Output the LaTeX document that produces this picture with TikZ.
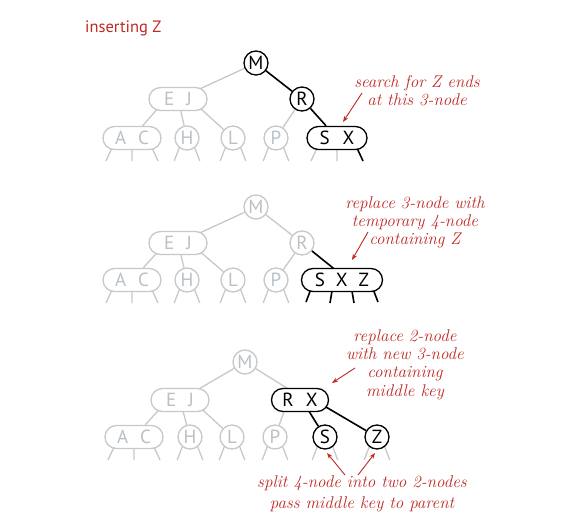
\documentclass[tikz,border=0pt]{standalone}
\usepackage{fontspec}
\usetikzlibrary{shapes.misc,calc,arrows.meta}
\newfontfamily\keyfont{PT Sans}
\definecolor{redx}{RGB}{190,40,35}
\definecolor{lg}{RGB}{200,200,200}
\definecolor{lgt}{RGB}{185,192,200}
\pgfdeclarelayer{bg}
\pgfsetlayers{bg,main}
\newcommand\mycstubs[2]{\draw[#2] (#1.-128) -- ++(-5,13) (#1.-52) -- ++(5,13);}
\newcommand\mypstubs[2]{\draw[#2] ($(#1)+(-20,10)$) -- ++(-6,13) ($(#1)+(0,11)$) -- ++(0,12) ($(#1)+(20,10)$) -- ++(6,13);}
\begin{document}
\begin{tikzpicture}[x=1pt,y=-1pt,
  key/.style={circle, line width=1.3pt, fill=white, minimum size=24pt, inner sep=0pt, font=\keyfont\fontsize{19}{19}\selectfont},
  pill/.style={rounded rectangle, line width=1.3pt, fill=white, minimum height=23pt, inner sep=0pt, font=\keyfont\fontsize{19}{19}\selectfont},
  gk/.style={draw=lg, text=lgt},
  bk/.style={draw=black, text=black},
  ge/.style={draw=lg, line width=1.3pt},
  be/.style={draw=black, line width=1.6pt},
  note/.style={text=redx, font=\fontsize{17}{18.3}\selectfont\itshape, align=center},
  rarrow/.style={draw=redx, line width=0.9pt, -{Stealth[length=6pt,width=4.5pt]}}]
\useasboundingbox (0,0) rectangle (587,530);

% ---------- title
\node[anchor=west, text=redx, inner sep=0pt, font=\keyfont\fontsize{16.5}{16.5}\selectfont] (title) at (85,28) {inserting Z};

% ---------- panel 1
\node[key,bk] (M1) at (256,63) {M};
\node[pill,gk,minimum width=58pt] (EJ1) at (178,99) {E\hspace{12pt}J};
\node[key,bk] (R1) at (302,99) {R};
\node[pill,gk,minimum width=58pt] (AC1) at (132,138) {A\hspace{12pt}C};
\node[key,gk] (H1) at (187,138) {H};
\node[key,gk] (L1) at (233,138) {L};
\node[key,gk] (P1) at (276,138) {P};
\node[pill,bk,minimum width=60pt] (SX1) at (337,138) {S\hspace{13pt}X};
\begin{pgfonlayer}{bg}
\draw[ge] (M1) -- (EJ1);
\draw[be] (M1) -- (R1);
\draw[ge] ($(EJ1)+(-12,0)$) -- (AC1);
\draw[ge] (EJ1) -- (H1);
\draw[ge] ($(EJ1)+(12,0)$) -- (L1);
\draw[ge] (R1) -- (P1);
\draw[be] (R1) -- (SX1);
\mypstubs{AC1}{ge}
\mycstubs{H1}{ge}
\mycstubs{L1}{ge}
\mycstubs{P1}{ge}
\draw[ge] ($(SX1)+(-20,10)$) -- ++(-6,13) ($(SX1)+(0,11)$) -- ++(0,12);
\draw[be] ($(SX1)+(20,10)$) -- ++(6,13);
\end{pgfonlayer}
\node[note] (n1) at (417,91) {search for Z ends\\at this 3-node};
\coordinate (a1s) at (362,93);
\coordinate (a1e) at (343,122);
\draw[rarrow] (a1s) -- (a1e);

% ---------- panel 2
\node[key,gk] (M2) at (256,207) {M};
\node[pill,gk,minimum width=58pt] (EJ2) at (178,243) {E\hspace{12pt}J};
\node[key,gk] (R2) at (302,243) {R};
\node[pill,gk,minimum width=58pt] (AC2) at (132,280) {A\hspace{12pt}C};
\node[key,gk] (H2) at (187,280) {H};
\node[key,gk] (L2) at (233,280) {L};
\node[key,gk] (P2) at (276,280) {P};
\node[pill,bk,minimum width=81pt] (SXZ2) at (342,280) {S\hspace{11pt}X\hspace{11pt}Z};
\begin{pgfonlayer}{bg}
\draw[ge] (M2) -- (EJ2);
\draw[ge] (M2) -- (R2);
\draw[ge] ($(EJ2)+(-12,0)$) -- (AC2);
\draw[ge] (EJ2) -- (H2);
\draw[ge] ($(EJ2)+(12,0)$) -- (L2);
\draw[ge] (R2) -- (P2);
\draw[be] (R2) -- ($(SXZ2)+(6,0)$);
\mypstubs{AC2}{ge}
\mycstubs{H2}{ge}
\mycstubs{L2}{ge}
\mycstubs{P2}{ge}
\draw[be] ($(SXZ2)+(-31,9)$) -- ++(-5,13) ($(SXZ2)+(-10,11)$) -- ++(-2,12)
          ($(SXZ2)+(10,11)$) -- ++(2,12) ($(SXZ2)+(31,9)$) -- ++(5,13);
\end{pgfonlayer}
\node[note] (n2) at (415,222.5) {replace 3-node with\\temporary 4-node\\containing Z};
\coordinate (a2s) at (368,232);
\coordinate (a2e) at (352,260);
\draw[rarrow] (a2s) -- (a2e);

% ---------- panel 3
\node[key,gk] (M3) at (245,362) {M};
\node[pill,gk,minimum width=58pt] (EJ3) at (180,400) {E\hspace{12pt}J};
\node[pill,bk,minimum width=57pt] (RX3) at (300,400) {R\hspace{12pt}X};
\node[pill,gk,minimum width=58pt] (AC3) at (134,437) {A\hspace{12pt}C};
\node[key,gk] (H3) at (190,437) {H};
\node[key,gk] (L3) at (232,437) {L};
\node[key,gk] (P3) at (275,437) {P};
\node[key,bk] (S3) at (325,437) {S};
\node[key,bk] (Z3) at (377,437) {Z};
\begin{pgfonlayer}{bg}
\draw[ge] (M3) -- (EJ3);
\draw[ge] (M3) -- ($(RX3)+(6,0)$);
\draw[ge] ($(EJ3)+(-12,0)$) -- (AC3);
\draw[ge] (EJ3) -- (H3);
\draw[ge] ($(EJ3)+(12,0)$) -- (L3);
\draw[ge] ($(RX3)+(-12,0)$) -- (P3);
\draw[be] ($(RX3)+(2,0)$) -- (S3);
\draw[be] ($(RX3)+(14,0)$) -- (Z3);
\mypstubs{AC3}{ge}
\mycstubs{H3}{ge}
\mycstubs{L3}{ge}
\mycstubs{P3}{ge}
\mycstubs{S3}{ge}
\mycstubs{Z3}{ge}
\end{pgfonlayer}
\node[note] (n3) at (405,364.5) {replace 2-node\\with new 3-node\\containing\\middle key};
\coordinate (a3s) at (355,368);
\coordinate (a3e) at (332,383);
\draw[rarrow] (a3s) -- (a3e);
\node[note, font=\fontsize{17}{21}\selectfont\itshape] (n4) at (362,494) {split 4-node into two 2-nodes\\pass middle key to parent};
\coordinate (a4s) at (345,475);
\coordinate (a4e) at (327,453);
\coordinate (a5s) at (358,475);
\coordinate (a5e) at (375,453);
\draw[rarrow] (a4s) -- (a4e);
\draw[rarrow] (a5s) -- (a5e);
\end{tikzpicture}
\end{document}
